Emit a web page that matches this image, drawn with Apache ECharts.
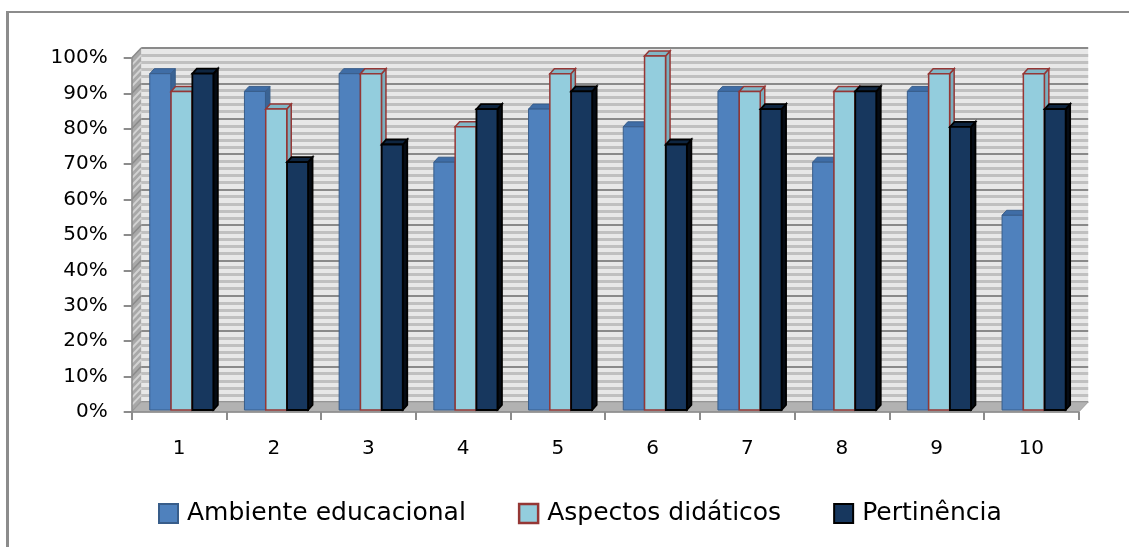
<!DOCTYPE html>
<html>
<head>
<meta charset="utf-8">
<script src="https://cdn.jsdelivr.net/npm/echarts@6/dist/echarts.min.js"></script>
<style>
  html, body { margin: 0; padding: 0; background: #ffffff; }
  #chart { width: 1129px; height: 547px; }
</style>
</head>
<body>
<div id="chart"></div>
<script>
// Survey results per item (share of favourable answers)
const categories = ['1', '2', '3', '4', '5', '6', '7', '8', '9', '10'];
const ambiente = [0.95, 0.90, 0.95, 0.70, 0.85, 0.80, 0.90, 0.70, 0.90, 0.55];
const aspectos = [0.90, 0.85, 0.95, 0.80, 0.95, 1.00, 0.90, 0.90, 0.95, 0.95];
const pertinencia = [0.95, 0.70, 0.75, 0.85, 0.90, 0.75, 0.85, 0.90, 0.80, 0.85];
const seriesNames = ['Ambiente educacional', 'Aspectos didáticos', 'Pertinência'];
const yTicks = [0, 0.1, 0.2, 0.3, 0.4, 0.5, 0.6, 0.7, 0.8, 0.9, 1];

const FONT = 'DejaVu Sans';

// 3D look: offset of the back wall and of each bar's depth
const WALL_DX = 9.5, WALL_DY = -10;
const BAR_DX = 4.5, BAR_DY = -5;
const BAR_W = 21, BAR_STEP = 21.3, GROUP_OFFSET = -29.3, BAR_LIFT = -2;

const styles = [
  { front: '#4F81BD', top: '#3F6DA6', side: '#3A6394', stroke: '#385D8A', lw: 1 },
  { front: '#93CDDD', top: '#80B7C7', side: '#7AAFBF', stroke: '#953735', lw: 1.5 },
  { front: '#17375E', top: '#0E2540', side: '#050B14', stroke: '#000000', lw: 1.8 }
];

function barRenderer(idx) {
  const s = styles[idx];
  return function (params, api) {
    const ci = api.value(0), v = api.value(1);
    const base = api.coord([ci, 0]);
    const top = api.coord([ci, v]);
    const x0 = base[0] + GROUP_OFFSET + idx * BAR_STEP;
    const x1 = x0 + BAR_W;
    const yb = base[1] + BAR_LIFT, yt = top[1] + BAR_LIFT;
    const st = (fill) => ({ fill: fill, stroke: s.stroke, lineWidth: s.lw });
    return {
      type: 'group',
      children: [
        { type: 'polygon', shape: { points: [[x1, yb], [x1 + BAR_DX, yb + BAR_DY], [x1 + BAR_DX, yt + BAR_DY], [x1, yt]] }, style: st(s.side) },
        { type: 'polygon', shape: { points: [[x0, yt], [x0 + BAR_DX, yt + BAR_DY], [x1 + BAR_DX, yt + BAR_DY], [x1, yt]] }, style: st(s.top) },
        { type: 'rect', shape: { x: x0, y: yt, width: BAR_W, height: yb - yt }, style: st(s.front) }
      ]
    };
  };
}

// Left side wall and floor of the 3D box
function boxRenderer(params, api) {
  const band = api.size([1, 0])[0];
  const p0 = api.coord([0, 0]);
  const p1 = api.coord([0, 1]);
  const pr = api.coord([categories.length - 1, 0]);
  const xl = p0[0] - band / 2, xr = pr[0] + band / 2;
  const yb = p0[1], yt = p1[1];
  const children = [
    { type: 'polygon', shape: { points: [[xl, yb], [xl + WALL_DX, yb + WALL_DY], [xl + WALL_DX, yt + WALL_DY], [xl, yt]] },
      style: { fill: '#A8A8A8' } }
  ];
  for (let k = 0; k <= 50; k++) {
    const y = api.coord([0, k / 50])[1];
    const major = k % 5 === 0;
    children.push({ type: 'line', shape: { x1: xl, y1: y, x2: xl + WALL_DX, y2: y + WALL_DY },
      style: { stroke: major ? '#8A8A8A' : '#D2D2D2', lineWidth: major ? 1.5 : 2 } });
  }
  children.push({ type: 'polygon', shape: { points: [[xl, yb], [xl + WALL_DX, yb + WALL_DY], [xr + WALL_DX, yb + WALL_DY], [xr, yb]] },
    style: { fill: '#B2B2B2', stroke: '#A0A0A0', lineWidth: 1 } });
  return { type: 'group', children: children };
}

const chart = echarts.init(document.getElementById('chart'), null, { renderer: 'canvas' });

const valuesBySeries = [ambiente, aspectos, pertinencia];

const option = {
  animation: false,
  backgroundColor: '#ffffff',
  textStyle: { fontFamily: FONT },
  graphic: [
    { type: 'line', shape: { x1: 7.5, y1: 11, x2: 7.5, y2: 560 }, style: { stroke: '#8C8C8C', lineWidth: 3 }, z: 100 },
    { type: 'line', shape: { x1: 6, y1: 12, x2: 1140, y2: 12 }, style: { stroke: '#8C8C8C', lineWidth: 2 }, z: 100 }
  ],
  grid: [
    { left: 131.7, right: 50.3, top: 58, bottom: 135, containLabel: false },
    { left: 131.7 + WALL_DX, right: 50.3 - WALL_DX, top: 58 + WALL_DY, bottom: 135 - WALL_DY,
      show: true, backgroundColor: '#E8E8E8', borderWidth: 0, z: 0 }
  ],
  xAxis: [
    {
      type: 'category', gridIndex: 0, data: categories, boundaryGap: true,
      axisLine: { show: true, lineStyle: { color: '#8C8C8C', width: 1.5 } },
      axisTick: { show: true, length: 8, lineStyle: { color: '#8C8C8C', width: 2 } },
      axisLabel: { margin: 27, fontSize: 20, color: '#000', fontFamily: FONT },
      splitLine: { show: false }, z: 5
    },
    { type: 'category', gridIndex: 1, data: categories, show: false }
  ],
  yAxis: [
    {
      type: 'value', gridIndex: 0, min: 0, max: 1, interval: 0.1,
      axisLine: { show: true, lineStyle: { color: '#8C8C8C', width: 1.5 } },
      axisTick: { show: true, length: 8, lineStyle: { color: '#8C8C8C', width: 2 } },
      axisLabel: { margin: 24, fontSize: 20, color: '#000', fontFamily: FONT,
        formatter: (v) => Math.round(v * 100) + '%' },
      splitLine: { show: false }, z: 5
    },
    {
      type: 'value', gridIndex: 1, min: 0, max: 1, interval: 0.1,
      axisLine: { show: false }, axisTick: { show: false }, axisLabel: { show: false },
      splitLine: { show: true, lineStyle: { color: '#8A8A8A', width: 2 } },
      minorTick: { show: false, splitNumber: 5 },
      minorSplitLine: { show: true, lineStyle: { color: '#C0C0C0', width: 3 } }
    }
  ],
  legend: {
    left: 153, top: 496,
    itemWidth: 19, itemHeight: 19, itemGap: 52,
    icon: 'rect',
    textStyle: { fontSize: 25, color: '#000', fontFamily: FONT, padding: [0, 0, 0, 4] },
    data: seriesNames.map((n, i) => ({
      name: n, icon: 'rect',
      itemStyle: { color: styles[i].front, borderColor: styles[i].stroke, borderWidth: i === 1 ? 2.5 : 2 }
    }))
  },
  series: [
    { type: 'custom', name: 'box', xAxisIndex: 0, yAxisIndex: 0, z: 1, silent: true,
      renderItem: boxRenderer, data: [[0, 0]] }
  ].concat(seriesNames.map((n, i) => ({
    type: 'custom', name: n, xAxisIndex: 0, yAxisIndex: 0, z: 3,
    itemStyle: { color: styles[i].front, borderColor: styles[i].stroke },
    renderItem: barRenderer(i),
    data: valuesBySeries[i].map((v, ci) => [ci, v])
  })))
};

chart.setOption(option);
</script>
</body>
</html>
